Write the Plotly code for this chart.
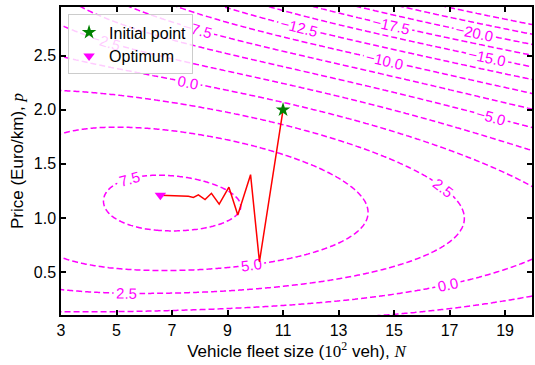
import numpy as np
import plotly.graph_objects as go

# ---- contour points: N (10^2 veh), p (Euro/km) per contour level ----
lv_8_N, lv_8_p = [6.7], [1.21]
lv_75_N = [4.25, 4.75, 4.75, 5.46, 5.46, 6.06, 6.6, 7.5, 8.66, 9.4, 9.1, 8.4, 6.6]
lv_75_p = [1.24, 1.32, 1.05, 1.49, 0.96, 0.95, 0.93, 1.44, 1.37, 1.17, 1.07, 1.01, 1.50]
lv_5_N = [3, 5, 7, 9.4, 10.8, 12.33, 13.54, 14.1, 13.45, 11.15, 10.1, 6.5, 3]
lv_5_p = [1.80, 1.89, 1.88, 1.75, 1.64, 1.47, 1.35, 1.17, 0.94, 0.70, 0.66, 0.546, 0.70]
lv_25_N = [3, 5, 10.8, 13.04, 13.9, 15.54, 16.85, 17.5, 17.1, 14.7, 11.5, 6.9, 3]
lv_25_p = [2.15, 2.16, 1.88, 1.74, 1.69, 1.52, 1.35, 1.10, 0.93, 0.58, 0.41, 0.31, 0.35]
lv_0_N = [3, 8.66, 10.7, 11.58, 14.8, 15.7, 17.9, 19.9, 19.8, 16.0, 15.25, 11.5, 7, 4.1, 3]
lv_0_p = [2.44, 2.19, 2.09, 2.02, 1.81, 1.77, 1.60, 1.33, 0.83, 0.35, 0.31, 0.18, 0.10, 0.14, 0.12]
lv_m25_N = [3, 7.5, 8.66, 9.45, 19.45, 19.9, 17.8, 19.2]
lv_m25_p = [2.76, 2.40, 2.35, 2.30, 1.69, 1.66, 0.12, 0.27]
lv_m5_N, lv_m5_p = [4.5, 7.5, 8.66, 16.96, 19.9], [2.94, 2.57, 2.51, 2.02, 1.87]
lv_m75_N, lv_m75_p = [6.5, 8.66, 12.7, 15.25, 19.9], [2.89, 2.68, 2.39, 2.25, 2.02]
lv_m10_N, lv_m10_p = [9.13, 19.9], [2.81, 2.15]
lv_m125_N, lv_m125_p = [11.5, 19.4], [2.77, 2.28]
lv_m15_N, lv_m15_p = [13.9, 19.9], [2.74, 2.38]
lv_m175_N, lv_m175_p = [19.5], [2.49]
lv_m20_N, lv_m20_p = [16.75, 19.9], [2.81, 2.62]
lv_m225_N, lv_m225_p = [19.4], [2.74]
corner_N, corner_p, corner_f = [3.0], [2.95], [-4.3]

levels = [8.0, 7.5, 5.0, 2.5, 0.0, -2.5, -5.0, -7.5, -10.0, -12.5, -15.0, -17.5, -20.0, -22.5]
level_N = [lv_8_N, lv_75_N, lv_5_N, lv_25_N, lv_0_N, lv_m25_N, lv_m5_N, lv_m75_N,
           lv_m10_N, lv_m125_N, lv_m15_N, lv_m175_N, lv_m20_N, lv_m225_N]
level_p = [lv_8_p, lv_75_p, lv_5_p, lv_25_p, lv_0_p, lv_m25_p, lv_m5_p, lv_m75_p,
           lv_m10_p, lv_m125_p, lv_m15_p, lv_m175_p, lv_m20_p, lv_m225_p]

# ---- optimisation path (initial point -> optimum) ----
path_N = [11.0, 10.15, 9.83, 9.37, 9.05, 8.70, 8.42, 8.19, 7.95, 7.77, 7.59, 6.58]
path_p = [2.0, 0.595, 1.40, 1.028, 1.284, 1.127, 1.228, 1.17, 1.213, 1.19, 1.20, 1.21]
init_N, init_p = [11.0], [2.0]
opt_N, opt_p = [6.58], [1.21]

x_ticks = [3, 5, 7, 9, 11, 13, 15, 17, 19]
y_ticks = [0.5, 1.0, 1.5, 2.0, 2.5]

# ---- smooth surface through the read contour points (least squares, bicubic) ----
PN, PP, PZ = list(corner_N), list(corner_p), list(corner_f)
for lv, ns, ps in zip(levels, level_N, level_p):
    PN += ns; PP += ps; PZ += [lv] * len(ns)
PN, PP, PZ = np.array(PN, float), np.array(PP, float), np.array(PZ, float)

def basis(N, p):
    u = (N - 11.0) / 8.5
    v = (p - 1.5) / 1.4
    return np.stack([u**i * v**j for i in range(4) for j in range(4)], axis=-1)

coef, *_ = np.linalg.lstsq(basis(PN, PP), PZ, rcond=None)
gN = np.linspace(2.8, 20.3, 220)
gp = np.linspace(0.05, 3.0, 220)
GN, GP = np.meshgrid(gN, gp)
Z = basis(GN, GP) @ coef

fig = go.Figure()
fig.add_trace(go.Contour(
    x=gN, y=gp, z=Z,
    autocontour=False,
    contours=dict(start=-25, end=7.5, size=2.5, coloring='lines', showlabels=True,
                  labelfont=dict(size=15, color='#ff00ff', family='Liberation Sans'),
                  labelformat='.1f'),
    colorscale=[[0, '#ff00ff'], [1, '#ff00ff']],
    line=dict(width=1.5, dash='6px,3px'),
    showscale=False, showlegend=False, hoverinfo='skip'))

fig.add_trace(go.Scatter(x=path_N, y=path_p, mode='lines',
                         line=dict(color='red', width=1.5), showlegend=False))
fig.add_trace(go.Scatter(x=init_N, y=init_p, mode='markers', name='Initial point',
                         marker=dict(symbol='star', size=11, color='green')))
fig.add_trace(go.Scatter(x=opt_N, y=opt_p, mode='markers', name='Optimum',
                         marker=dict(symbol='triangle-down', size=10, color='#ff00ff')))

serif = 'font-family:Liberation Serif'
axis_common = dict(showline=True, linecolor='black', linewidth=1.5, mirror='ticks',
                   ticks='inside', ticklen=5, tickwidth=1.5, tickcolor='black',
                   showgrid=False, zeroline=False,
                   tickfont=dict(size=16, color='black', family='Liberation Sans'))
fig.update_layout(
    width=535, height=365,
    margin=dict(l=61, r=1, t=7, b=50),
    paper_bgcolor='white', plot_bgcolor='white',
    font=dict(family='Liberation Sans', size=17, color='black'),
    xaxis=dict(range=[3, 19.97], tickvals=x_ticks,
               title=dict(text=f'Vehicle fleet size (<span style="{serif}">10<sup>2</sup></span> veh), '
                               f'<span style="{serif}"><i>N</i></span>',
                          font=dict(size=17), standoff=4),
               **axis_common),
    yaxis=dict(range=[0.103, 2.95], tickvals=y_ticks, tickformat='.1f',
               title=dict(text=f'Price (Euro/km), <span style="{serif}"><i>p</i></span>',
                          font=dict(size=17), standoff=6),
               **axis_common),
    legend=dict(x=0.015, y=0.976, xanchor='left', yanchor='top',
                bgcolor='rgba(255,255,255,0.8)', bordercolor='#cccccc', borderwidth=1,
                font=dict(size=16, color='black'), itemwidth=30, tracegroupgap=0),
)
fig.write_html('out.html')
